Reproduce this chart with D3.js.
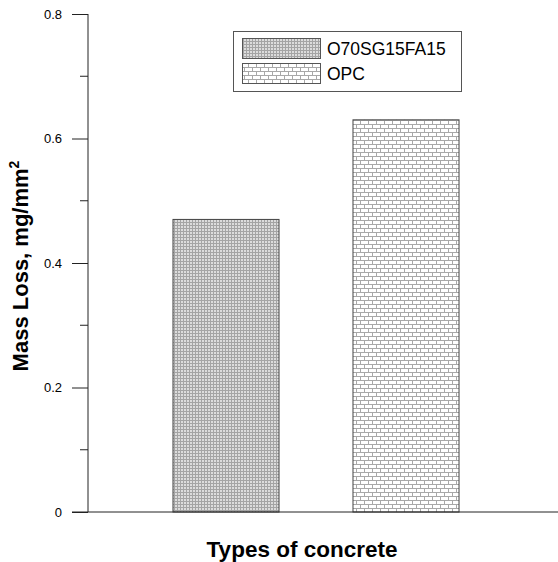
<!DOCTYPE html>
<html>
<head>
<meta charset="utf-8">
<script src="https://cdn.jsdelivr.net/npm/d3@7"></script>
<style>
  body { margin: 0; background: #fff; }
  text { font-family: Arial, "Liberation Sans", sans-serif; }
</style>
</head>
<body>
<svg id="chart" width="558" height="562"></svg>
<script>
// data
const categories = ['O70SG15FA15', 'OPC'];
const massLoss = [0.47, 0.63];
const yTicks = [0, 0.2, 0.4, 0.6, 0.8];
const yMinorTicks = [0.1, 0.3, 0.5, 0.7];

const svg = d3.select('#chart');

const x0 = 88, x1 = 558;
const yTop = 14, yBottom = 512;

const y = d3.scaleLinear().domain([0, 0.8]).range([yBottom, yTop]);
const x = d3.scaleBand().domain(categories)
  .range([81, 551]).paddingInner(0.411).paddingOuter(0.511);

// fill patterns
const defs = svg.append('defs');

const checker = defs.append('pattern')
  .attr('id', 'checker')
  .attr('patternUnits', 'userSpaceOnUse')
  .attr('width', 3).attr('height', 3);
checker.append('rect').attr('width', 3).attr('height', 3).attr('fill', '#dcdcdc');
checker.append('rect').attr('width', 3).attr('height', 1).attr('fill', '#a4a4a4');
checker.append('rect').attr('width', 1).attr('height', 3).attr('fill', '#a4a4a4');

const brick = defs.append('pattern')
  .attr('id', 'brick')
  .attr('patternUnits', 'userSpaceOnUse')
  .attr('width', 8).attr('height', 8);
brick.append('rect').attr('width', 8).attr('height', 8).attr('fill', '#ffffff');
brick.append('path')
  .attr('d', 'M0,0.5H8M0,4.5H8M0.5,0V4M4.5,4V8')
  .attr('stroke', '#a8a8a8').attr('stroke-width', 1).attr('fill', 'none');

const fills = ['url(#checker)', 'url(#brick)'];

// bars
svg.selectAll('rect.bar')
  .data(massLoss)
  .enter()
  .append('rect')
  .attr('class', 'bar')
  .attr('x', (d, i) => x(categories[i]))
  .attr('y', d => y(d))
  .attr('width', x.bandwidth())
  .attr('height', d => yBottom - y(d))
  .attr('fill', (d, i) => fills[i])
  .attr('stroke', '#444')
  .attr('stroke-width', 1);

// y axis with long major ticks
const yAxis = d3.axisLeft(y).tickValues(yTicks).tickSize(16).tickPadding(10)
  .tickFormat(d => d === 0 ? '0' : d3.format('.1f')(d));
const gy = svg.append('g').attr('transform', `translate(${x0},0)`).call(yAxis);
gy.select('.domain').remove();
gy.selectAll('.tick line').attr('stroke', '#222');
gy.selectAll('.tick text').attr('font-size', 13).attr('fill', '#000')
  .attr('font-family', 'Arial, "Liberation Sans", sans-serif');

// minor ticks
svg.selectAll('line.minor')
  .data(yMinorTicks)
  .enter()
  .append('line')
  .attr('x1', x0 - 8).attr('x2', x0)
  .attr('y1', d => y(d)).attr('y2', d => y(d))
  .attr('stroke', '#222');

// axis lines
svg.append('line')
  .attr('x1', x0).attr('x2', x0)
  .attr('y1', yTop).attr('y2', yBottom)
  .attr('stroke', '#222');
svg.append('line')
  .attr('x1', 72).attr('x2', x1)
  .attr('y1', yBottom).attr('y2', yBottom)
  .attr('stroke', '#222');

// axis titles
svg.append('text')
  .attr('x', 302).attr('y', 557)
  .attr('text-anchor', 'middle')
  .attr('font-size', 22.5).attr('font-weight', 'bold')
  .text('Types of concrete');

const yTitle = svg.append('text')
  .attr('transform', 'translate(28,266) rotate(-90)')
  .attr('text-anchor', 'middle')
  .attr('font-size', 22).attr('font-weight', 'bold');
yTitle.append('tspan').text('Mass Loss, mg/mm');
yTitle.append('tspan').attr('font-size', 14).attr('dy', -9).text('2');

// legend
const legend = svg.append('g');
legend.append('rect')
  .attr('x', 233.5).attr('y', 31.5)
  .attr('width', 228).attr('height', 60)
  .attr('fill', '#fff').attr('stroke', '#555');

const items = legend.selectAll('g.item')
  .data(categories)
  .enter()
  .append('g')
  .attr('class', 'item')
  .attr('transform', (d, i) => `translate(0,${38 + i * 25})`);
items.append('rect')
  .attr('x', 242.5).attr('y', 0.5)
  .attr('width', 78).attr('height', 20)
  .attr('fill', (d, i) => fills[i])
  .attr('stroke', '#555');
items.append('text')
  .attr('x', 327).attr('y', 17)
  .attr('font-size', 17.5)
  .text(d => d);
</script>
</body>
</html>
